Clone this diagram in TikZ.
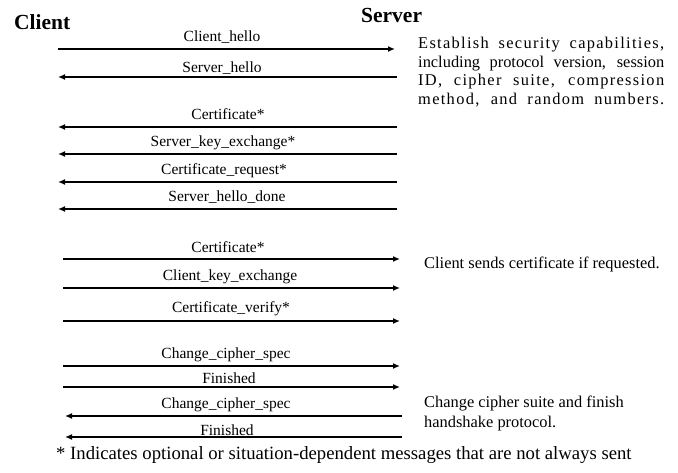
\documentclass[tikz,border=0pt]{standalone}
\usepackage{fontspec}
\setmainfont{Liberation Serif}
\newfontfamily\spacedfont[LetterSpace=8]{Liberation Serif}
\usetikzlibrary{arrows.meta}
\begin{document}
\begin{tikzpicture}[x=1pt,y=-1pt,
  tos/.style={line width=1.6pt,-{Latex[length=7pt,width=6pt]}},
  toc/.style={line width=1.6pt,{Latex[length=7pt,width=6pt]}-},
  lbl/.style={anchor=base,inner sep=0pt,font=\fontsize{15.5}{18}\selectfont},
  party/.style={anchor=base west,inner sep=0pt,font=\fontsize{21.5}{24}\selectfont\bfseries},
  note/.style={anchor=base west,inner sep=0pt,font=\fontsize{16.4}{19}\selectfont},
  foot/.style={anchor=base west,inner sep=0pt,font=\fontsize{18.7}{21}\selectfont}]
\fill[white] (0,0) rectangle (678,473);
\useasboundingbox (0,0) rectangle (678,473);

% parties
\node[party] (client) at (14,30) {Client};
\node[party] (server) at (361,23) {Server};

% hello phase
\coordinate (c1) at (58,49);  \coordinate (s1) at (395,49);
\coordinate (c2) at (58,77);  \coordinate (s2) at (397,77);
\coordinate (c3) at (58,127); \coordinate (s3) at (397,127);
\coordinate (c4) at (58,154); \coordinate (s4) at (397,154);
\coordinate (c5) at (58,182); \coordinate (s5) at (397,182);
\coordinate (c6) at (58,209); \coordinate (s6) at (397,209);
\draw[tos] (c1) -- (s1);
\draw[toc] (c2) -- (s2);
\draw[toc] (c3) -- (s3);
\draw[toc] (c4) -- (s4);
\draw[toc] (c5) -- (s5);
\draw[toc] (c6) -- (s6);
\node[lbl] (m1) at (222,42)  {Client\_hello};
\node[lbl] (m2) at (222,73)  {Server\_hello};
\node[lbl] (m3) at (228,120) {Certificate*};
\node[lbl] (m4) at (223,147) {Server\_key\_exchange*};
\node[lbl] (m5) at (224,175) {Certificate\_request*};
\node[lbl] (m6) at (227,202) {Server\_hello\_done};

% client authentication and key exchange
\coordinate (c7) at (63,259);  \coordinate (s7) at (400,259);
\coordinate (c8) at (63,288);  \coordinate (s8) at (400,288);
\coordinate (c9) at (63,321);  \coordinate (s9) at (400,321);
\draw[tos] (c7) -- (s7);
\draw[tos] (c8) -- (s8);
\draw[tos] (c9) -- (s9);
\node[lbl] (m7) at (228,253) {Certificate*};
\node[lbl] (m8) at (230,281) {Client\_key\_exchange};
\node[lbl] (m9) at (231,313) {Certificate\_verify*};

% finish
\coordinate (c10) at (63,366); \coordinate (s10) at (400,366);
\coordinate (c11) at (63,387); \coordinate (s11) at (400,387);
\coordinate (c12) at (65,416); \coordinate (s12) at (402,416);
\coordinate (c13) at (65,437); \coordinate (s13) at (402,437);
\draw[tos] (c10) -- (s10);
\draw[tos] (c11) -- (s11);
\draw[toc] (c12) -- (s12);
\draw[toc] (c13) -- (s13);
\node[lbl] (m10) at (226,359) {Change\_cipher\_spec};
\node[lbl] (m11) at (229,384) {Finished};
\node[lbl] (m12) at (226,408) {Change\_cipher\_spec};
\node[lbl] (m13) at (227,435) {Finished};

% phase descriptions
\node[note] (d1) at (418,49) {\parbox[t]{246pt}{\fontsize{16.4}{18.4}\selectfont
  \spacedfont\makebox[246pt][s]{Establish security capabilities,}\\
  \rmfamily\makebox[246pt][s]{including protocol version, session}\\
  \spacedfont\makebox[246pt][s]{ID, cipher suite, compression}\\
  \makebox[246pt][s]{method, and random numbers.}}};
\node[note] (d2) at (424,269) {Client sends certificate if requested.};
\node[note] (d3) at (424,407) {\parbox[t]{250pt}{\fontsize{16.4}{20}\selectfont
  Change cipher suite and finish\\ handshake protocol.}};

% footnote
\node[foot] (fn) at (56,459) {* Indicates optional or situation-dependent messages that are not always sent};
\end{tikzpicture}
\end{document}
